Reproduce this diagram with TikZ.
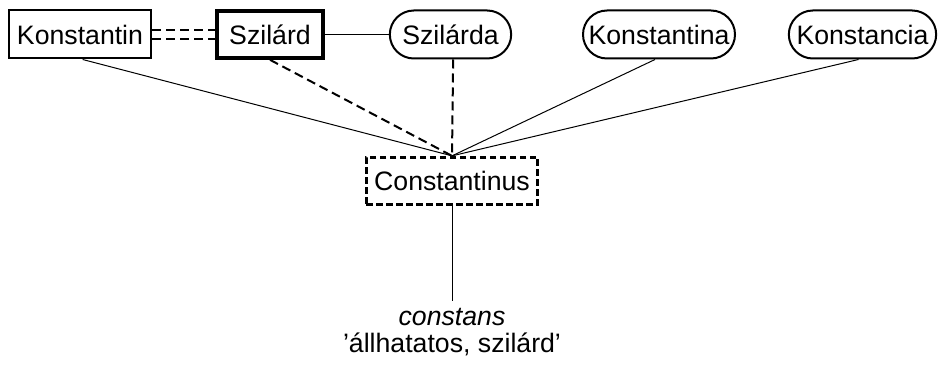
\documentclass[tikz,border=0pt]{standalone}
\usepackage{fontspec}
\setmainfont{Liberation Sans}
\usetikzlibrary{calc}
\begin{document}
\begin{tikzpicture}[x=0.75pt,y=-0.75pt,
  every node/.style={font=\fontsize{20}{24}\selectfont, inner sep=0pt},
  sqbox/.style={draw, line width=1.5pt, minimum height=36pt},
  thickbox/.style={draw, line width=3pt, minimum height=35pt},
  roundbox/.style={draw, line width=1.5pt, minimum height=36pt, rounded corners=18pt},
  dashbox/.style={draw, line width=2.2pt, minimum height=35.5pt, dash pattern=on 5pt off 2.5pt},
  conn/.style={line width=0.75pt},
  dconn/.style={line width=1.5pt, dash pattern=on 6.75pt off 3.75pt}
]
\useasboundingbox (0,0) rectangle (939,366);
\node[sqbox, minimum width=106.5pt] (K) at (80,34.5) {Konstantin};
\node[thickbox, minimum width=80pt] (S) at (270,34.5) {Szilárd};
\node[roundbox, minimum width=91pt] (Sa) at (450.5,34.5) {Szilárda};
\node[roundbox, minimum width=114pt] (Ka) at (659,34.5) {Konstantina};
\node[roundbox, minimum width=110.5pt] (Kc) at (862.5,34.5) {Konstancia};
\node[dashbox, minimum width=128.5pt] (C) at (452,181) {Constantinus};
\node[align=center, anchor=north, inner ysep=5.5pt] (G) at (452,301) {\itshape constans\\[-3.75pt]’állhatatos, szilárd’};

\draw[dconn] ([yshift=-3.5pt]K.east) -- ([yshift=-3.5pt]S.west);
\draw[dconn] ([yshift=3.5pt]K.east) -- ([yshift=3.5pt]S.west);
\draw[conn] (S.east) -- (Sa.west);
\draw[conn] ([xshift=2pt]K.south) -- (C.north);
\draw[dconn] (S.south) -- (C.north);
\draw[dconn] ([xshift=2pt]Sa.south) -- (C.north);
\draw[conn] ([xshift=-3pt]Ka.south) -- (C.north);
\draw[conn] ([xshift=-3pt]Kc.south) -- (C.north);
\draw[conn] (C.south) -- (G.north);
\end{tikzpicture}
\end{document}
